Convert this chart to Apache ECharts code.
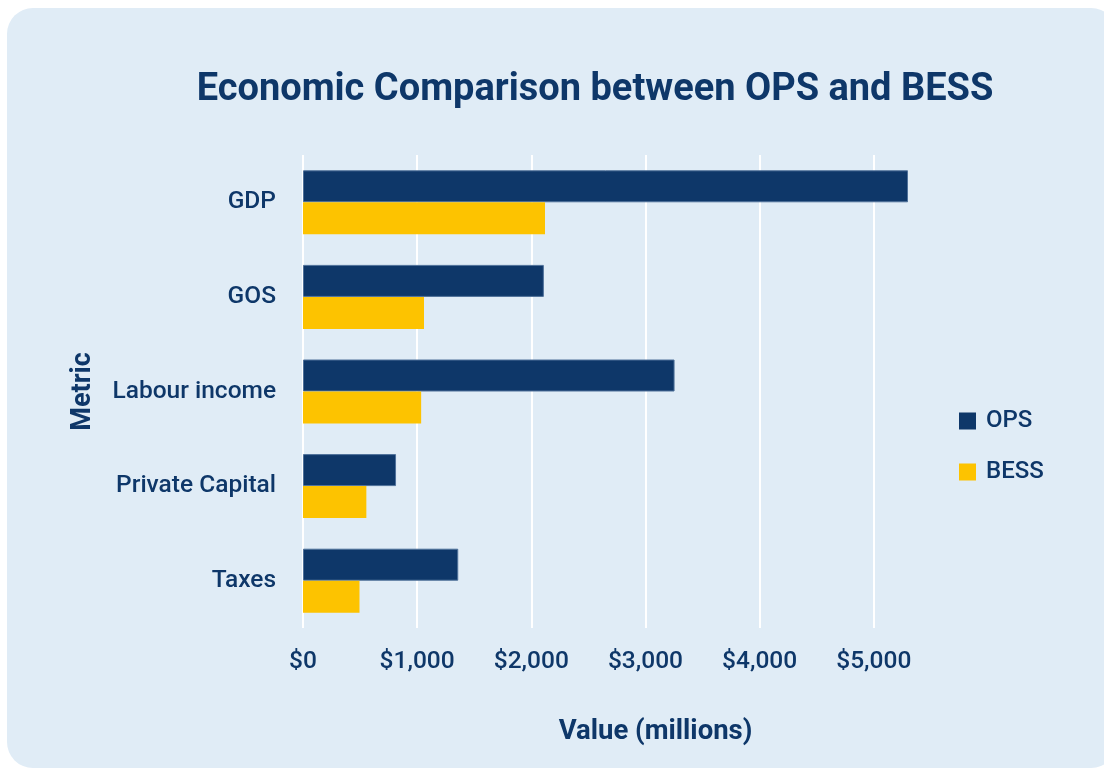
<!DOCTYPE html>
<html>
<head>
<meta charset="utf-8">
<title>Economic Comparison between OPS and BESS</title>
<script src="https://cdn.jsdelivr.net/npm/echarts@6/dist/echarts.min.js"></script>
<style>
  html, body { margin: 0; padding: 0; background: #ffffff; }
  #chart { width: 1104px; height: 770px; }
</style>
</head>
<body>
<div id="chart"></div>
<script>
// values in millions
const metrics = ['GDP', 'GOS', 'Labour income', 'Private Capital', 'Taxes']
const opsValues = [5300, 2110, 3255, 815, 1360]
const bessValues = [2120, 1060, 1035, 555, 495]

const navy = '#0e3769'
const gold = '#fdc300'
const font = 'Roboto, "Noto Sans", sans-serif'

const chart = echarts.init(document.getElementById('chart'))
chart.setOption({
  backgroundColor: '#ffffff',
  graphic: [{
    type: 'rect', z: -10, silent: true,
    shape: { x: 7, y: 8, width: 1110, height: 760, r: 26 },
    style: { fill: '#e0ecf6' },
  }],
  title: {
    text: 'Economic Comparison between OPS and BESS',
    left: 590, top: 66, textAlign: 'center',
    textStyle: { color: navy, fontFamily: font, fontSize: 38, fontWeight: 'bold' },
  },
  legend: {
    orient: 'vertical', left: 959, top: 409, padding: 0,
    itemWidth: 17, itemHeight: 17, itemGap: 27,
    icon: 'rect',
    data: ['OPS', 'BESS'],
    itemStyle: { borderWidth: 0 },
    textStyle: { color: navy, fontFamily: font, fontSize: 24, fontWeight: 500, padding: [0, 0, 0, 5] },
  },
  grid: { left: 303, right: 196, top: 155, bottom: 142, containLabel: false },
  xAxis: {
    type: 'value', min: 0, max: 5300, interval: 1000,
    name: 'Value (millions)', nameLocation: 'middle', nameGap: 90,
    nameTextStyle: { color: navy, fontFamily: font, fontSize: 27.5, fontWeight: 'bold', padding: [0, 0, 0, 100] },
    axisLine: { show: false }, axisTick: { show: false },
    splitLine: { show: true, showMaxLine: false, lineStyle: { color: '#ffffff', width: 2 } },
    axisLabel: {
      showMaxLabel: false, margin: 21,
      color: navy, fontFamily: font, fontSize: 24.5, fontWeight: 500,
      formatter: v => '$' + v.toLocaleString('en-US'),
    },
  },
  yAxis: {
    type: 'category', data: metrics, inverse: true,
    name: 'Metric', nameLocation: 'middle', nameGap: 206, nameRotate: 90,
    nameTextStyle: { color: navy, fontFamily: font, fontSize: 27, fontWeight: 'bold' },
    axisLine: { show: false }, axisTick: { show: false },
    axisLabel: { margin: 27, color: navy, fontFamily: font, fontSize: 24.5, fontWeight: 500 },
  },
  series: [
    {
      name: 'OPS', type: 'bar', data: opsValues,
      barWidth: 32, barGap: '0%',
      itemStyle: { color: navy, borderColor: '#4f719a', borderWidth: 1 },
    },
    {
      name: 'BESS', type: 'bar', data: bessValues,
      barWidth: 32,
      itemStyle: { color: gold },
    },
  ],
})
</script>
</body>
</html>
